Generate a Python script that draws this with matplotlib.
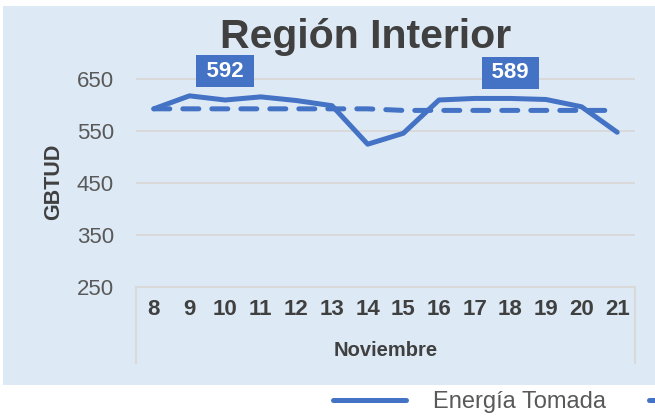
import matplotlib
matplotlib.use("Agg")
import matplotlib.pyplot as plt
from matplotlib.patches import Rectangle

plt.rcParams['font.family'] = ['Liberation Sans', 'DejaVu Sans']

# data
dias = ['8', '9', '10', '11', '12', '13', '14', '15', '16', '17', '18', '19', '20', '21']
energia = [592, 617, 609, 615, 608, 598, 524, 545, 609, 612, 612, 610, 596, 547]
promedio = [592, 592, 592, 592, 592, 592, 592, 589, 589, 589, 589, 589, 589, 589]
etiquetas = {2: '592', 10: '589'}   # index -> label on the average line
yticks = [250, 350, 450, 550, 650]

azul = '#4472C4'
gris_txt = '#595959'
gris_osc = '#404040'
gris_lin = '#D9D9D9'

fig = plt.figure(figsize=(6.55, 4.17), dpi=100)
fig.patch.set_facecolor('white')

# chart area background
fig.add_artist(Rectangle((3 / 655, 1 - 385 / 417), 1, (385 - 6) / 417,
                         transform=fig.transFigure, facecolor='#DDEAF6',
                         edgecolor='none', zorder=-10))

ax = fig.add_axes([136 / 655, 0.3125, 499 / 655, 0.5487])
ax.set_facecolor('none')

x = list(range(len(dias)))
l1, = ax.plot(x, energia, color=azul, lw=3.6, solid_joinstyle='round',
              solid_capstyle='round', zorder=3, label='Energía Tomada')
l2, = ax.plot(x, promedio, color=azul, lw=3.6, linestyle=(0, (3.2, 2.6)),
              dash_capstyle='round', zorder=4, label='Promedio Semanal')

for i, txt in etiquetas.items():
    ax.annotate('\u2009' + txt + '\u2009', (i, promedio[i]), xytext=(0, 27),
                textcoords='offset points',
                ha='center', va='center', color='white', fontsize=16,
                fontweight='bold',
                bbox=dict(boxstyle='square,pad=0.25', facecolor=azul,
                          edgecolor='none'), zorder=6)

ax.set_xlim(-0.5, len(dias) - 0.5)
ax.set_ylim(250, 690)
ax.set_yticks(yticks)
ax.set_xticks(x)
ax.set_xticklabels(dias, fontweight='bold', color=gris_osc, fontsize=16)
ax.tick_params(axis='x', length=0, pad=9)
ax.tick_params(axis='y', length=0, pad=16, labelsize=16, labelcolor=gris_txt)
ax.grid(axis='y', color=gris_lin, lw=1.4, zorder=0)
ax.set_axisbelow(True)
for s in ['top', 'right', 'left']:
    ax.spines[s].set_visible(False)
ax.spines['bottom'].set_color(gris_lin)
ax.spines['bottom'].set_linewidth(1.5)

# category group box
for xa in (0, 1):
    ax.plot([xa, xa], [0, -0.3335], transform=ax.transAxes, color=gris_lin,
            lw=1.5, clip_on=False)
ax.text(0.5, 1 - (351 - 58) / 228.8, 'Noviembre', transform=ax.transAxes,
        ha='center', va='center', fontsize=14.5, fontweight='bold', color=gris_osc)

fig.text(54 / 655, 1 - 181.5 / 417, 'GBTUD', rotation=90, ha='center', va='center',
         fontsize=15.5, fontweight='bold', color=gris_osc)

fig.text(365.5 / 655, 1 - 48.3 / 417, 'Región Interior', ha='center', va='baseline',
         fontsize=29.5, fontweight='bold', color=gris_osc)

fig.legend(handles=[l1, l2], loc='center left', bbox_to_anchor=(333 / 655, 1 - 402 / 417),
           ncol=2, frameon=False, fontsize=17, labelcolor=gris_txt,
           handlelength=3.1, handletextpad=1.15, columnspacing=1.8,
           borderpad=0, borderaxespad=0)

fig.savefig('out.png', dpi=100, facecolor='white')
